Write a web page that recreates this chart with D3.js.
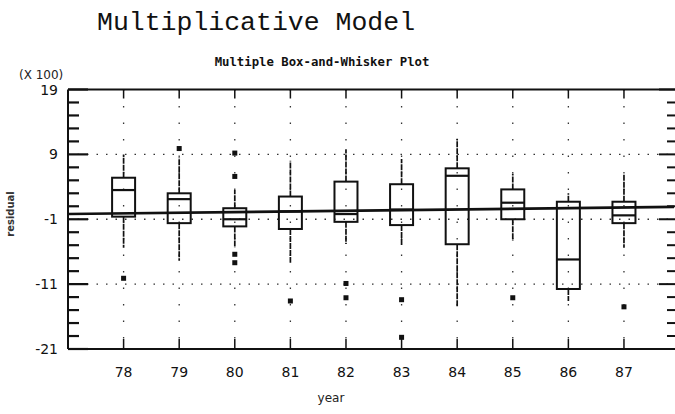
<!DOCTYPE html>
<html>
<head>
<meta charset="utf-8">
<script src="https://cdn.jsdelivr.net/npm/d3@7"></script>
<style>
  html, body { margin: 0; padding: 0; background: #fff; }
  svg { display: block; }
</style>
</head>
<body>
<svg id="chart" width="675" height="414"></svg>
<script>
// ---- data (values in units of 100) ----
const categories  = ["78", "79", "80", "81", "82", "83", "84", "85", "86", "87"];
const whiskerLow  = [-5.4, -7.4, -5.4, -7.7, -4.8, -5.1, -14.5, -4.3, -13.6, -5.4];
const q1          = [-0.6, -1.6, -2.1, -2.5, -1.4, -1.9, -4.85, -1.0, -11.75, -1.6];
const median      = [3.5, 2.1, -1.0, 0.2, -0.2, 0.5, 5.7, 1.55, -7.2, -0.4];
const q3          = [5.4, 3.0, 0.7, 2.5, 4.8, 4.4, 6.85, 3.6, 1.7, 1.7];
const whiskerHigh = [9.0, 8.5, 3.5, 8.0, 9.8, 8.3, 11.4, 6.0, 3.0, 6.0];
const outliers    = [[-10.1], [9.9], [9.2, 5.6, -6.4, -7.7], [-13.6], [-10.9, -13.1],
                     [-13.4, -19.2], [], [-13.1], [], [-14.5]];
const yTicks      = [19, 9, -1, -11, -21];
const yGrid       = [9, -1, -11];
const refLine     = [-0.2, 0.9];   // solid reference line, left and right ends

const svg = d3.select("#chart");
const pLeft = 68, pRight = 674, pTop = 89.5, pBottom = 349;

const x = d3.scaleLinear().domain([0, 10.9]).range([pLeft, pRight]);
const y = d3.scaleLinear().domain([-21, 19]).range([pBottom, pTop]);
const pos = i => x(i + 1);

// titles
svg.append("text").attr("x", 97).attr("y", 30)
  .attr("font-family", "Liberation Mono, monospace").attr("font-size", 26.5)
  .attr("fill", "#111").text("Multiplicative Model");
svg.append("text").attr("x", 322).attr("y", 66).attr("text-anchor", "middle")
  .attr("font-family", "DejaVu Sans Mono, monospace").attr("font-weight", "bold")
  .attr("font-size", 12.3).attr("fill", "#111").text("Multiple Box-and-Whisker Plot");
svg.append("text").attr("x", 19).attr("y", 79)
  .attr("font-family", "DejaVu Sans, sans-serif").attr("font-size", 12)
  .attr("fill", "#222").text("(X 100)");

// gridlines (dotted)
svg.append("g").selectAll("line").data(categories).join("line")
  .attr("x1", (d, i) => pos(i)).attr("x2", (d, i) => pos(i))
  .attr("y1", pTop).attr("y2", pBottom)
  .attr("stroke", "#333").attr("stroke-width", 1.3).attr("stroke-dasharray", "1.5,15");
svg.append("g").selectAll("line").data(yGrid).join("line")
  .attr("x1", pLeft).attr("x2", pRight).attr("y1", d => y(d)).attr("y2", d => y(d))
  .attr("stroke", "#333").attr("stroke-width", 1.3).attr("stroke-dasharray", "1.5,8");

// frame lines
svg.append("line").attr("x1", pLeft).attr("x2", 675).attr("y1", pTop).attr("y2", pTop)
  .attr("stroke", "#111").attr("stroke-width", 2.2);
svg.append("line").attr("x1", pLeft).attr("x2", 675).attr("y1", pBottom).attr("y2", pBottom)
  .attr("stroke", "#111").attr("stroke-width", 2.2);
svg.append("line").attr("x1", pLeft).attr("x2", pLeft).attr("y1", pTop).attr("y2", pBottom)
  .attr("stroke", "#111").attr("stroke-width", 2);

// left axis (inward ticks) and right-hand ticks
const minorVals = d3.range(-21, 19.01, 2);
const leftAxis = svg.append("g");
leftAxis.selectAll("line").data(minorVals).join("line")
  .attr("x1", pLeft).attr("x2", d => yTicks.includes(d) ? pLeft + 20 : pLeft + 11)
  .attr("y1", d => y(d)).attr("y2", d => y(d))
  .attr("stroke", "#111").attr("stroke-width", 2.2);
leftAxis.selectAll("text").data(yTicks).join("text")
  .attr("x", 58).attr("y", d => y(d)).attr("dy", "0.36em").attr("text-anchor", "end")
  .attr("font-family", "DejaVu Sans, sans-serif").attr("font-size", 14).attr("fill", "#111")
  .text(d => d);
svg.append("g").selectAll("line").data(minorVals).join("line")
  .attr("x1", pRight + 1).attr("x2", d => yTicks.includes(d) ? pRight - 15 : pRight - 7)
  .attr("y1", d => y(d)).attr("y2", d => y(d))
  .attr("stroke", "#111").attr("stroke-width", 2);

// top and bottom category ticks, labels
svg.append("g").selectAll("line").data(categories).join("line")
  .attr("x1", (d, i) => pos(i)).attr("x2", (d, i) => pos(i))
  .attr("y1", pTop).attr("y2", pTop + 9).attr("stroke", "#111").attr("stroke-width", 1.5);
svg.append("g").selectAll("line").data(categories).join("line")
  .attr("x1", (d, i) => pos(i)).attr("x2", (d, i) => pos(i))
  .attr("y1", pBottom).attr("y2", pBottom - 10).attr("stroke", "#111").attr("stroke-width", 1.5);
svg.append("g").selectAll("text").data(categories).join("text")
  .attr("x", (d, i) => pos(i)).attr("y", 377).attr("text-anchor", "middle")
  .attr("font-family", "DejaVu Sans, sans-serif").attr("font-size", 14).attr("fill", "#111")
  .text(d => d);

// axis titles
svg.append("text").attr("x", 331).attr("y", 402).attr("text-anchor", "middle")
  .attr("font-family", "DejaVu Sans, sans-serif").attr("font-size", 12).attr("fill", "#222")
  .text("year");
svg.append("text").attr("transform", "translate(14,214) rotate(-90)").attr("text-anchor", "middle")
  .attr("font-family", "DejaVu Sans, sans-serif").attr("font-size", 10).attr("font-weight", "bold")
  .attr("fill", "#333").text("residual");

// whiskers
const boxes = svg.append("g");
const bw = 23;
boxes.selectAll("line.wu").data(categories).join("line").attr("class", "wu")
  .attr("x1", (d, i) => pos(i)).attr("x2", (d, i) => pos(i))
  .attr("y1", (d, i) => y(q3[i])).attr("y2", (d, i) => y(whiskerHigh[i]))
  .attr("stroke", "#111").attr("stroke-width", 1.7).attr("stroke-dasharray", "6,1");
boxes.selectAll("line.wl").data(categories).join("line").attr("class", "wl")
  .attr("x1", (d, i) => pos(i)).attr("x2", (d, i) => pos(i))
  .attr("y1", (d, i) => y(q1[i])).attr("y2", (d, i) => y(whiskerLow[i]))
  .attr("stroke", "#111").attr("stroke-width", 1.7).attr("stroke-dasharray", "6,1");

// boxes
boxes.selectAll("rect").data(categories).join("rect")
  .attr("x", (d, i) => pos(i) - bw / 2).attr("width", bw)
  .attr("y", (d, i) => y(q3[i])).attr("height", (d, i) => y(q1[i]) - y(q3[i]))
  .attr("fill", "none").attr("stroke", "#111").attr("stroke-width", 2);
boxes.selectAll("line.med").data(categories).join("line").attr("class", "med")
  .attr("x1", (d, i) => pos(i) - bw / 2).attr("x2", (d, i) => pos(i) + bw / 2)
  .attr("y1", (d, i) => y(median[i])).attr("y2", (d, i) => y(median[i]))
  .attr("stroke", "#111").attr("stroke-width", 2.2);

// outliers
const pts = [];
outliers.forEach((arr, i) => arr.forEach(v => pts.push({ i, v })));
svg.append("g").selectAll("rect").data(pts).join("rect")
  .attr("x", d => pos(d.i) - 2.5).attr("y", d => y(d.v) - 2.5)
  .attr("width", 5).attr("height", 5).attr("fill", "#111");

// solid reference line
svg.append("line")
  .attr("x1", x(0)).attr("x2", x(10.9))
  .attr("y1", y(refLine[0])).attr("y2", y(refLine[1]))
  .attr("stroke", "#111").attr("stroke-width", 2.6);
</script>
</body>
</html>
